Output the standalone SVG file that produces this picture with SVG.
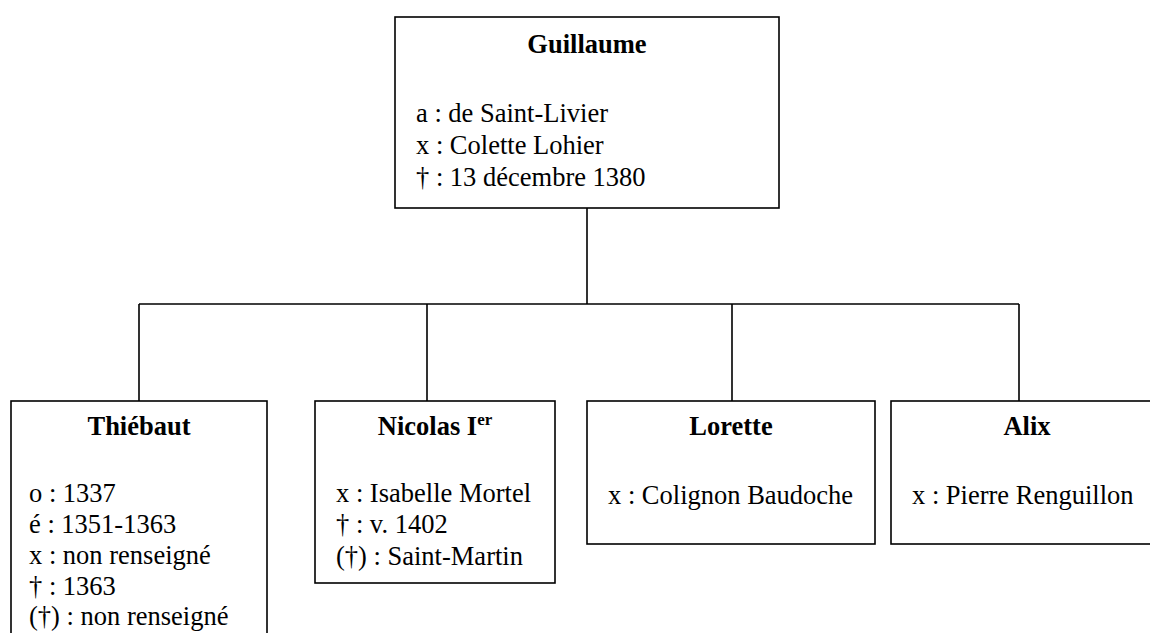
<svg xmlns="http://www.w3.org/2000/svg" width="1150" height="633" viewBox="0 0 1150 633">
<style>
.box{fill:#fff;stroke:#000;stroke-width:1.6}
.ln{fill:none;stroke:#000;stroke-width:1.6}
text{font-family:"Liberation Serif","Times New Roman",serif;font-size:26.5px;fill:#000}
.t{font-weight:bold;text-anchor:middle}
</style>
<rect width="1150" height="633" fill="#fff"/>
<g id="connectors">
<path class="ln" d="M587 208V304M139 304H1019M139 304V401M427 304V401M732 304V401M1019 304V401"/>
</g>
<g id="guillaume">
<rect class="box" x="395" y="17" width="384" height="191"/>
<text class="t" x="587" y="53">Guillaume</text>
<text x="416" y="122">a : de Saint-Livier</text>
<text x="416" y="154">x : Colette Lohier</text>
<text x="416" y="186">† : 13 décembre 1380</text>
</g>
<g id="thiebaut">
<rect class="box" x="11" y="401" width="256" height="260"/>
<text class="t" x="139" y="435">Thiébaut</text>
<text x="29" y="502">o : 1337</text>
<text x="29" y="533">é : 1351-1363</text>
<text x="29" y="564">x : non renseigné</text>
<text x="29" y="595">† : 1363</text>
<text x="29" y="625">(†) : non renseigné</text>
</g>
<g id="nicolas">
<rect class="box" x="315" y="401" width="240" height="182"/>
<text class="t" x="435" y="435">Nicolas I<tspan font-size="17" dy="-10">er</tspan></text>
<text x="336" y="502">x : Isabelle Mortel</text>
<text x="336" y="533">† : v. 1402</text>
<text x="336" y="565">(†) : Saint-Martin</text>
</g>
<g id="lorette">
<rect class="box" x="587" y="401" width="288" height="143"/>
<text class="t" x="731" y="435">Lorette</text>
<text x="608" y="504">x : Colignon Baudoche</text>
</g>
<g id="alix">
<rect class="box" x="891" y="401" width="272" height="143"/>
<text class="t" x="1027" y="435">Alix</text>
<text x="912" y="504">x : Pierre Renguillon</text>
</g>
</svg>
